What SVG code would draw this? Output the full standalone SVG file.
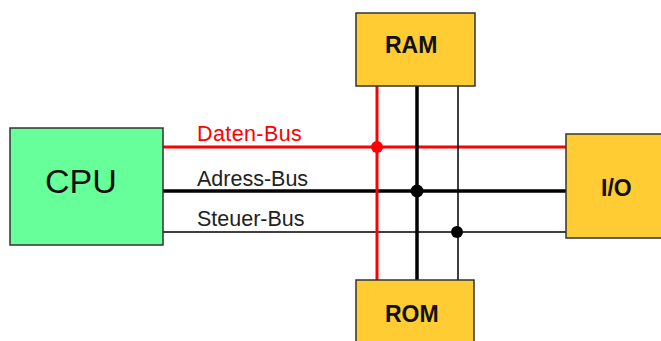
<svg xmlns="http://www.w3.org/2000/svg" width="661" height="341" viewBox="0 0 661 341">
  <style>
    .box { stroke: #333333; stroke-width: 1.5; }
    .cpu { fill: #66FF99; }
    .mem { fill: #FFCC33; }
    .title { font-family: "Liberation Sans", Arial, sans-serif; fill: #111111; }
    .bold { font-weight: bold; font-size: 23px; }
    .lbl { font-family: "Liberation Sans", Arial, sans-serif; font-size: 21.5px; fill: #222222; }
    .red { stroke: #FF0000; }
    .blk { stroke: #000000; }
  </style>
  <rect width="661" height="341" fill="#ffffff"/>

  <!-- bus lines -->
  <g id="connectors" fill="none">
    <line class="red" x1="163" y1="147" x2="566" y2="147" stroke-width="3"/>
    <line class="blk" x1="163" y1="191" x2="566" y2="191" stroke-width="3.5"/>
    <line class="blk" x1="163" y1="232" x2="566" y2="232" stroke-width="1.5"/>
    <line class="red" x1="377" y1="86" x2="377" y2="280" stroke-width="3"/>
    <line class="blk" x1="417" y1="86" x2="417" y2="280" stroke-width="3.5"/>
    <line class="blk" x1="458" y1="86" x2="458" y2="280" stroke-width="1.5"/>
    <circle cx="377" cy="147" r="6" fill="#FF0000"/>
    <circle cx="417" cy="191" r="6.5" fill="#000000"/>
    <circle cx="457" cy="232" r="6" fill="#000000"/>
  </g>

  <!-- bus labels -->
  <text class="lbl" x="197" y="141" style="fill:#FF0000" letter-spacing="0.4">Daten-Bus</text>
  <text class="lbl" x="197" y="186">Adress-Bus</text>
  <text class="lbl" x="197" y="226">Steuer-Bus</text>

  <g id="cpu">
    <rect class="box cpu" x="10" y="128" width="153" height="117"/>
    <text class="title" x="45" y="193" font-size="34">CPU</text>
  </g>

  <g id="ram">
    <rect class="box mem" x="356" y="13" width="119" height="73"/>
    <text class="title bold" x="385" y="53">RAM</text>
  </g>

  <g id="rom">
    <rect class="box mem" x="356" y="280" width="118" height="70"/>
    <text class="title bold" x="385" y="322">ROM</text>
  </g>

  <g id="io">
    <rect class="box mem" x="566" y="134" width="110" height="104"/>
    <text class="title bold" x="601" y="196">I/O</text>
  </g>
</svg>
